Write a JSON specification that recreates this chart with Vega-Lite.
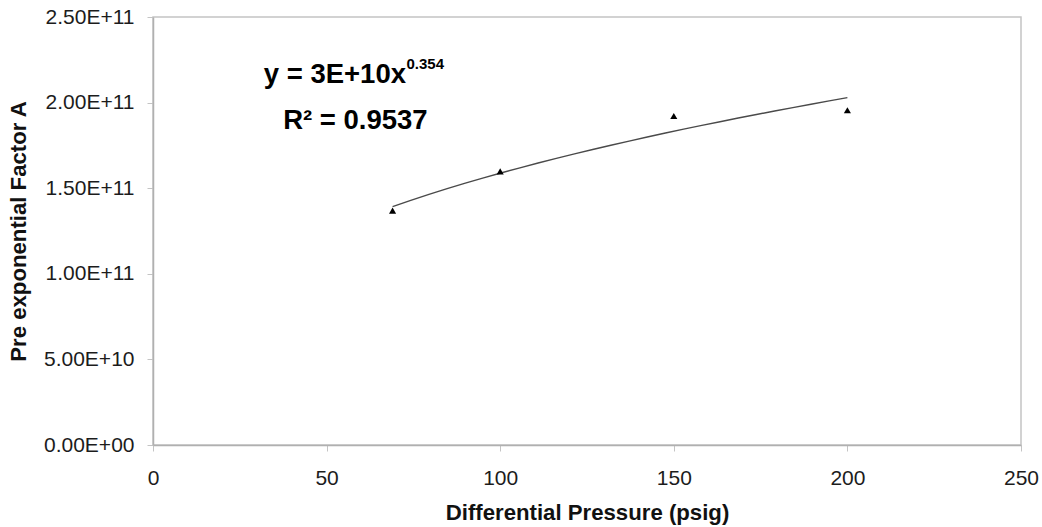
{
  "$schema": "https://vega.github.io/schema/vega-lite/v6.json",
  "autosize": "none",
  "width": 868,
  "height": 428,
  "padding": {"left": 153, "top": 17, "right": 21, "bottom": 82},
  "background": "white",
  "config": {
    "font": "Liberation Sans",
    "view": {"stroke": "#c4c4c4", "strokeWidth": 1.5},
    "axis": {
      "grid": false,
      "domainColor": "#b0b0b0",
      "domainWidth": 1.5,
      "tickColor": "#c4c4c4",
      "tickSize": 6,
      "labelFont": "Liberation Sans",
      "labelFontSize": 21,
      "labelColor": "#1c1c1c",
      "titleFont": "Liberation Sans",
      "titleFontSize": 22.2,
      "titleFontWeight": "bold",
      "titleColor": "#111111"
    }
  },
  "datasets": {
    "measured": [
      {"pressure": 69, "factor": 1.369e11},
      {"pressure": 100, "factor": 1.598e11},
      {"pressure": 150, "factor": 1.922e11},
      {"pressure": 200, "factor": 1.955e11}
    ]
  },
  "layer": [
    {
      "data": {"name": "measured"},
      "transform": [
        {"regression": "factor", "on": "pressure", "method": "pow", "extent": [69, 200]}
      ],
      "mark": {"type": "line", "color": "#4a4a4a", "strokeWidth": 1.4},
      "encoding": {
        "x": {
          "field": "pressure",
          "type": "quantitative",
          "scale": {"domain": [0, 250], "nice": false},
          "axis": {"values": [0, 50, 100, 150, 200, 250], "labelPadding": 16, "titlePadding": 13, "labelFlush": false},
          "title": "Differential Pressure (psig)"
        },
        "y": {
          "field": "factor",
          "type": "quantitative",
          "scale": {"domain": [0, 250000000000], "nice": false},
          "axis": {
            "values": [0, 50000000000, 100000000000, 150000000000, 200000000000, 250000000000],
            "labelExpr": "datum.value == 0 ? '0.00E+00' : upper(format(datum.value, '.2e'))",
            "labelPadding": 13,
            "titlePadding": 13,
            "labelFlush": false
          },
          "title": "Pre exponential Factor A"
        }
      }
    },
    {
      "data": {"name": "measured"},
      "mark": {"type": "point", "shape": "triangle-up", "filled": true, "color": "#000000", "size": 50, "opacity": 1},
      "encoding": {
        "x": {"field": "pressure", "type": "quantitative"},
        "y": {"field": "factor", "type": "quantitative"}
      }
    },
    {
      "data": {"values": [{"px": 72.87, "py": 2.116e11, "label": "y = 3E+10x"}]},
      "mark": {"type": "text", "align": "right", "baseline": "alphabetic", "fontSize": 27.5, "fontWeight": "bold", "color": "#000000"},
      "encoding": {
        "x": {"field": "px", "type": "quantitative"},
        "y": {"field": "py", "type": "quantitative"},
        "text": {"field": "label"}
      }
    },
    {
      "data": {"values": [{"px": 73.0, "py": 2.195e11, "label": "0.354"}]},
      "mark": {"type": "text", "align": "left", "baseline": "alphabetic", "fontSize": 15, "fontWeight": "bold", "color": "#000000"},
      "encoding": {
        "x": {"field": "px", "type": "quantitative"},
        "y": {"field": "py", "type": "quantitative"},
        "text": {"field": "label"}
      }
    },
    {
      "data": {"values": [{"px": 58.3, "py": 1.848e11, "label": "R² = 0.9537"}]},
      "mark": {"type": "text", "align": "center", "baseline": "alphabetic", "fontSize": 27.5, "fontWeight": "bold", "color": "#000000"},
      "encoding": {
        "x": {"field": "px", "type": "quantitative"},
        "y": {"field": "py", "type": "quantitative"},
        "text": {"field": "label"}
      }
    }
  ]
}
